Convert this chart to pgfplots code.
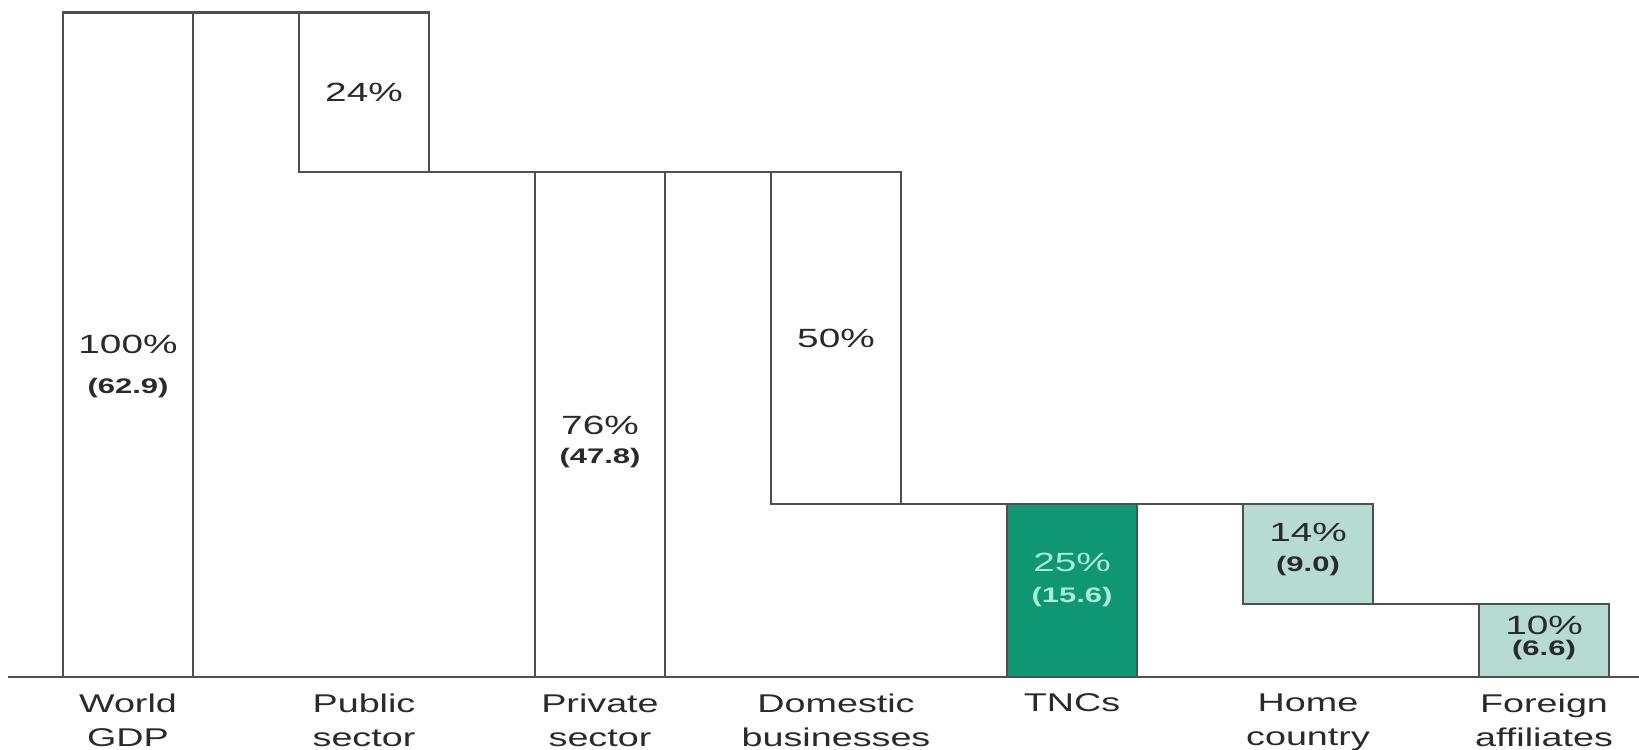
\documentclass[border=0pt]{standalone}
\usepackage{fontspec}
\setmainfont{Liberation Sans}[FakeStretch=1.47]
\usepackage{pgfplots}
\pgfplotsset{compat=1.18}
\definecolor{edge}{HTML}{505050}
\definecolor{tncgreen}{HTML}{0F9771}
\definecolor{paleteal}{HTML}{B6DBD3}
\definecolor{tnctext}{HTML}{A8EDD7}
\definecolor{ink}{HTML}{2A2A2A}

\begin{document}
\begin{tikzpicture}
\begin{axis}[
    scale only axis,
    width=16.31cm, height=6.645cm,
    xmin=-0.5085, xmax=6.4025, ymin=0, ymax=100,
    axis x line=bottom, axis y line=none,
    x axis line style={-, draw=edge, line width=0.7pt},
    xtick={0,...,6}, major tick length=0pt,
    xticklabels={{World\\GDP},{Public\\sector},{Private\\sector},{Domestic\\businesses},{TNCs},{Home\\country},{Foreign\\affiliates}},
    xticklabel style={align=center, font=\fontsize{7.3}{9.8}\selectfont, text=ink, inner sep=0pt, yshift=-4.6pt},
    clip=false,
    every node near coord/.append style={anchor=center, inner sep=0pt},
    bar/.style={draw=edge, line width=0.7pt},
    link/.style={draw=edge, line width=0.7pt},
]
% bars: (left,low) (right,low) (right,high) (left,high)
\addplot[bar, fill=white] coordinates {(-0.2754,0) (0.2754,0) (0.2754,100) (-0.2754,100)} -- cycle;
\addplot[bar, fill=white] coordinates {(0.7246,76) (1.2754,76) (1.2754,100) (0.7246,100)} -- cycle;
\addplot[bar, fill=white] coordinates {(1.7246,0) (2.2754,0) (2.2754,76) (1.7246,76)} -- cycle;
\addplot[bar, fill=white] coordinates {(2.7246,26) (3.2754,26) (3.2754,76) (2.7246,76)} -- cycle;
\addplot[bar, fill=tncgreen] coordinates {(3.7246,0) (4.2754,0) (4.2754,26) (3.7246,26)} -- cycle;
\addplot[bar, fill=paleteal] coordinates {(4.7246,11) (5.2754,11) (5.2754,26) (4.7246,26)} -- cycle;
\addplot[bar, fill=paleteal] coordinates {(5.7246,0) (6.2754,0) (6.2754,11) (5.7246,11)} -- cycle;

% connectors
\addplot[link] coordinates {(0.2754,100) (0.7246,100)};
\addplot[link] coordinates {(1.2754,76) (1.7246,76)};
\addplot[link] coordinates {(2.2754,76) (2.7246,76)};
\addplot[link] coordinates {(3.2754,26) (3.7246,26)};
\addplot[link] coordinates {(4.2754,26) (4.7246,26)};
\addplot[link] coordinates {(5.2754,11) (5.7246,11)};

% labels
\addplot[draw=none, mark=none, nodes near coords, point meta=explicit symbolic,
    nodes near coords style={font=\fontsize{7.5}{9}\selectfont, text=ink}]
    coordinates {(0,50.0)[100\%] (1,88.0)[24\%] (2,37.8)[76\%] (3,50.9)[50\%] (5,21.7)[14\%] (6,7.7)[10\%]};
\addplot[draw=none, mark=none, nodes near coords, point meta=explicit symbolic,
    nodes near coords style={font=\fontsize{7.5}{9}\selectfont, text=tnctext}]
    coordinates {(4,17.2)[25\%]};
\addplot[draw=none, mark=none, nodes near coords, point meta=explicit symbolic,
    nodes near coords style={font=\bfseries\fontsize{6}{7}\selectfont, text=ink}]
    coordinates {(0,43.5)[{(62.9)}] (2,33.0)[{(47.8)}] (5,16.7)[{(9.0)}] (6,4.1)[{(6.6)}]};
\addplot[draw=none, mark=none, nodes near coords, point meta=explicit symbolic,
    nodes near coords style={font=\bfseries\fontsize{6}{7}\selectfont, text=tnctext}]
    coordinates {(4,12.0)[{(15.6)}]};
\end{axis}
\pgfresetboundingbox
\path (-0.08,-0.72) rectangle (16.31,6.77);
\end{tikzpicture}
\end{document}
